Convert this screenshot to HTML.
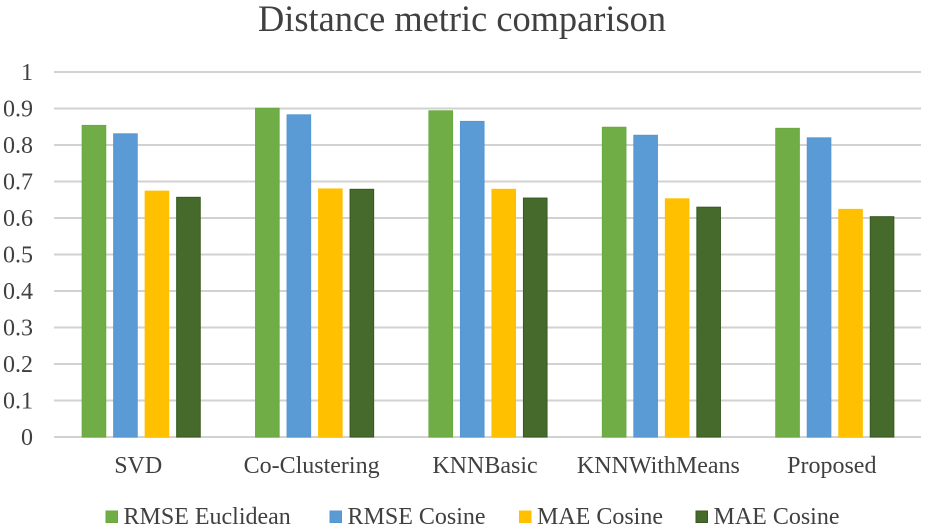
<!DOCTYPE html>
<html>
<head>
<meta charset="utf-8">
<style>
html,body{margin:0;padding:0;background:#fff;width:925px;height:529px;overflow:hidden}
svg{display:block;font-family:"Liberation Serif",serif;filter:blur(0.35px)}
text{fill:#404040}
</style>
</head>
<body>
<svg id="chart" width="925" height="529" viewBox="0 0 925 529" xmlns="http://www.w3.org/2000/svg">
<text x="462" y="31" text-anchor="middle" font-size="37.5" textLength="408" lengthAdjust="spacingAndGlyphs">Distance metric comparison</text>
<g id="grid"></g>
<g id="bars"></g>
<g id="labels"></g>
<g id="legend"></g>
</svg>
<script>
const categories = ['SVD', 'Co-Clustering', 'KNNBasic', 'KNNWithMeans', 'Proposed'];
const seriesNames = ['RMSE Euclidean', 'RMSE Cosine', 'MAE Cosine', 'MAE Cosine'];
const rmseEuclidean = [0.855, 0.902, 0.895, 0.850, 0.847];
const rmseCosine = [0.832, 0.884, 0.866, 0.828, 0.821];
const maeCosineA = [0.675, 0.681, 0.680, 0.654, 0.625];
const maeCosineB = [0.658, 0.680, 0.656, 0.631, 0.605];
const yTicks = [0, 0.1, 0.2, 0.3, 0.4, 0.5, 0.6, 0.7, 0.8, 0.9, 1];

const seriesValues = [rmseEuclidean, rmseCosine, maeCosineA, maeCosineB];
const fills = ['#70ad47', '#5b9bd5', '#ffc000', '#466a2b'];
const strokes = ['#69aa3e', '#5596d3', '#ffc000', '#37591f'];
const NS = 'http://www.w3.org/2000/svg';
const plotL = 54, plotR = 921, y0 = 437, y1 = 72;
const yScale = v => y0 - (y0 - y1) * v;
const band = (plotR - plotL) / categories.length;
const xCenter = i => plotL + band * (i + 0.5) + 0.5;
const barW = 23.6, barStep = 31.5;
const make = (tag, attrs, parent) => {
  const el = document.createElementNS(NS, tag);
  for (const k in attrs) el.setAttribute(k, attrs[k]);
  parent.appendChild(el);
  return el;
};
const grid = document.getElementById('grid');
const bars = document.getElementById('bars');
const labels = document.getElementById('labels');
const legend = document.getElementById('legend');

yTicks.forEach(t => {
  const line = make('line', {x1: plotL, x2: plotR, y1: yScale(t), y2: yScale(t), stroke: '#d2d2d2', 'stroke-width': 2}, grid);
  
  
  const txt = make('text', {x: 33, y: yScale(t) + 8, 'text-anchor': 'end', 'font-size': 24}, labels);
  txt.textContent = String(t);
  
  
});

categories.forEach((c, i) => {
  seriesValues.forEach((vals, s) => {
    const x = xCenter(i) + (s - 1.5) * barStep - barW / 2;
    const top = yScale(vals[i]) + 0.5;
    const r = make('rect', {x: x, y: top, width: barW, height: y0 - top, fill: fills[s], stroke: strokes[s], 'stroke-width': 1}, bars);
    
    
  });
  const txt = make('text', {x: xCenter(i) - 3, y: 473, 'text-anchor': 'middle', 'font-size': 24}, labels);
  txt.textContent = c;
  
  
});

const legendSwatchX = [106, 330, 519.5, 696];
seriesNames.forEach((n, s) => {
  const sw = make('rect', {x: legendSwatchX[s], y: 511, width: 11.5, height: 11.5, fill: fills[s], stroke: strokes[s], 'stroke-width': 1}, legend);
  
  
  const txt = make('text', {x: legendSwatchX[s] + 17.5, y: 524, 'font-size': 24}, legend);
  txt.textContent = n;
  
  
});
</script>
</body>
</html>
